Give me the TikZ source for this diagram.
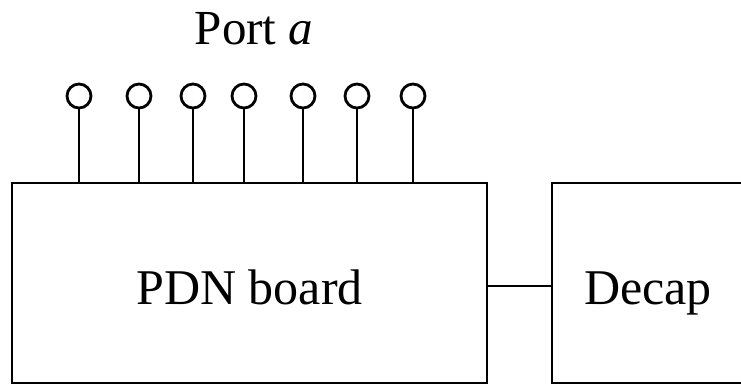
\documentclass[tikz,border=0pt]{standalone}
\usepackage{fontspec}
\setmainfont{Liberation Serif}
\begin{document}
\begin{tikzpicture}[x=1pt,y=-1pt,
  blk/.style={draw,line width=2.8pt,inner sep=0pt,text height=42pt,text depth=0pt,font=\fontsize{50}{60}\selectfont},
  pin/.style={draw,circle,line width=2.8pt,minimum size=24pt,inner sep=0pt},
  wire/.style={line width=2.8pt}]
\useasboundingbox (0,0) rectangle (741,385);
\clip (0,0) rectangle (741,385);
\node[blk,minimum width=475pt,minimum height=200pt] (pdn) at (249.5,283) {PDN board};
\node[blk,minimum width=192pt,minimum height=200pt] (decap) at (648,283) {Decap};
\draw[wire] (pdn.east |- 0,286) coordinate (c1) -- (decap.west |- c1);
\foreach \i/\x in {1/79,2/139,3/193,4/244,5/303,6/357,7/413}{
  \node[pin] (p\i) at (\x,96) {};
  \draw[wire] (p\i.south) -- (p\i.south |- pdn.north);
}
\node[font=\fontsize{49}{58}\selectfont,anchor=base] (lbl) at (254,45) {Port \textit{a}};
\end{tikzpicture}
\end{document}
